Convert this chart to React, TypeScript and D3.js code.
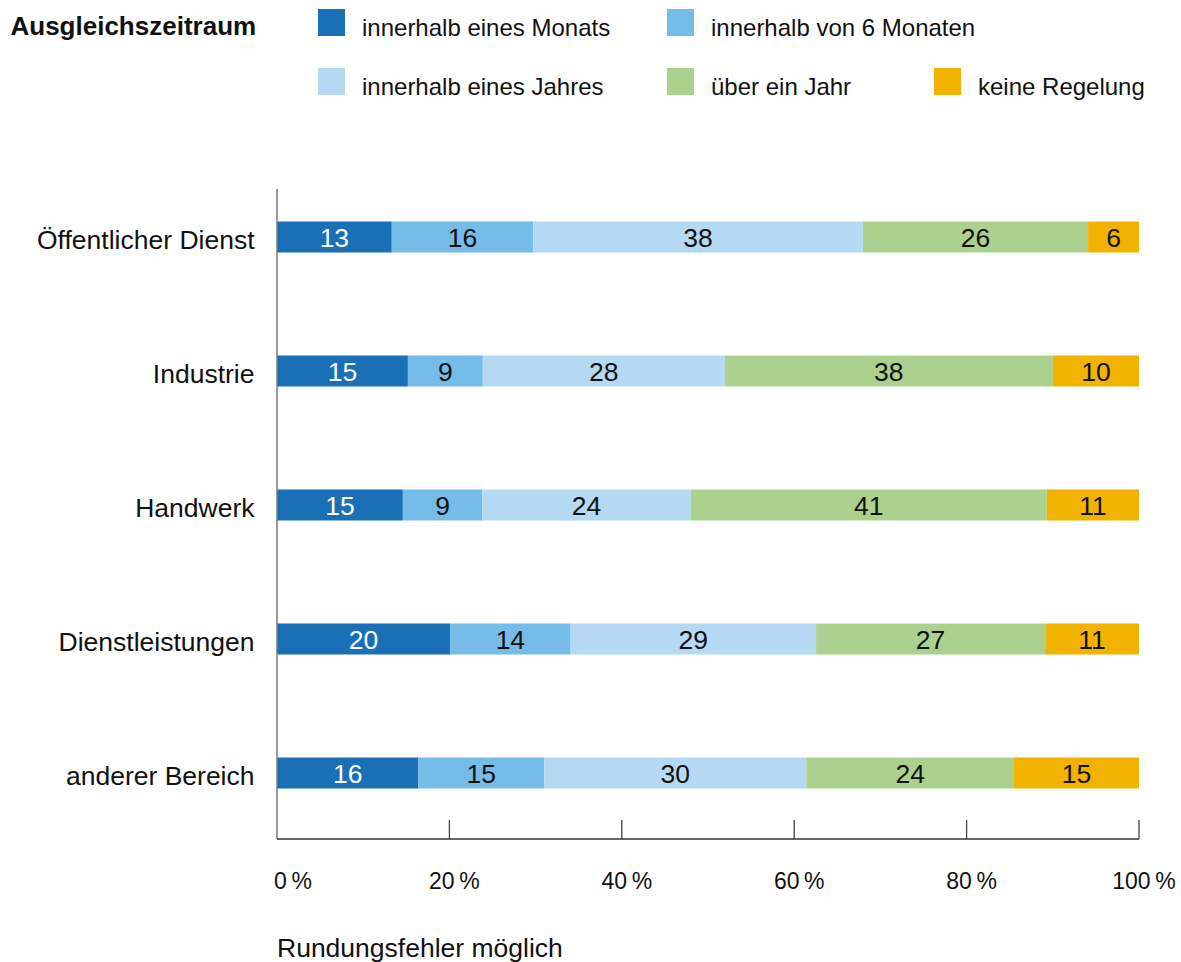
import React from "react";
import * as d3 from "d3";

// Ausgleichszeitraum nach Bereich (Anteile in %, gestapelt)
const categories = [
  "Öffentlicher Dienst",
  "Industrie",
  "Handwerk",
  "Dienstleistungen",
  "anderer Bereich",
];

const seriesNames = [
  "innerhalb eines Monats",
  "innerhalb von 6 Monaten",
  "innerhalb eines Jahres",
  "über ein Jahr",
  "keine Regelung",
];

const einMonat = [13.3, 15.2, 14.6, 20.1, 16.4];
const sechsMonate = [16.4, 8.7, 9.2, 14.0, 14.6];
const einJahr = [38.2, 28.1, 24.2, 28.5, 30.4];
const ueberJahr = [26.1, 38.1, 41.3, 26.6, 24.1];
const keineRegelung = [5.9, 10.0, 10.7, 10.9, 14.5];

const tickValues = [0, 0.2, 0.4, 0.6, 0.8, 1];

const colors = ["#1a6fb7", "#76bce8", "#b6d9f3", "#acd18f", "#f2b300"];

const W = 1181;
const H = 962;
const FONT = "'Liberation Sans', Arial, Helvetica, sans-serif";

export default function App() {
  const allSeries = [einMonat, sechsMonate, einJahr, ueberJahr, keineRegelung];

  const rows = categories.map((c, i) => {
    const row: any = { cat: c };
    seriesNames.forEach((s, j) => (row[s] = allSeries[j][i]));
    return row;
  });

  const stacked = d3
    .stack<any>()
    .keys(seriesNames)
    .offset(d3.stackOffsetExpand)(rows);

  const x = d3.scaleLinear().domain([0, 1]).range([277, 1139]);
  const y = d3.scaleBand().domain(categories).range([170, 840]);
  const barH = 31;
  const axisTop = 189;
  const axisBottom = 839;

  const fmt = (v: number) => `${Math.round(v * 100)}\u2009%`;

  // legend: two rows, three columns
  const legendCols = [318, 667, 934];
  const legendRows = [9, 68];
  const legendPos = (i: number) =>
    i < 2 ? [legendCols[i], legendRows[0]] : [legendCols[i - 2], legendRows[1]];

  return (
    <svg
      width={W}
      height={H}
      style={{ position: "absolute", left: 0, top: 0, background: "#fff" }}
      fontFamily={FONT}
    >
      <text x={10.5} y={34.5} fontSize={26} fontWeight="bold" fill="#111">
        Ausgleichszeitraum
      </text>

      {seriesNames.map((s, i) => {
        const [lx, ly] = legendPos(i);
        return (
          <g key={s}>
            <rect x={lx} y={ly} width={27} height={27} fill={colors[i]} />
            <text x={lx + 44} y={ly + 27} fontSize={24} fill="#111">
              {s}
            </text>
          </g>
        );
      })}

      {/* bars */}
      {stacked.map((layer, j) => (
        <g key={layer.key} fill={colors[j]}>
          {layer.map((d, i) => {
            const cy = (y(categories[i]) as number) + y.bandwidth() / 2;
            return (
              <rect
                key={i}
                x={x(d[0])}
                y={cy - barH / 2}
                width={x(d[1]) - x(d[0])}
                height={barH}
              />
            );
          })}
        </g>
      ))}

      {/* value labels */}
      {stacked.map((layer, j) =>
        layer.map((d, i) => {
          const cy = (y(categories[i]) as number) + y.bandwidth() / 2;
          return (
            <text
              key={`${j}-${i}`}
              x={(x(d[0]) + x(d[1])) / 2}
              y={cy + 9.7}
              textAnchor="middle"
              fontSize={26.5}
              fill={j === 0 ? "#fff" : "#111"}
            >
              {Math.round(allSeries[j][i])}
            </text>
          );
        })
      )}

      {/* category labels */}
      {categories.map((c) => (
        <text
          key={c}
          x={254.5}
          y={(y(c) as number) + y.bandwidth() / 2 + 11.5}
          textAnchor="end"
          fontSize={26.5}
          fill="#111"
        >
          {c}
        </text>
      ))}

      {/* axes */}
      <line
        x1={x(0)}
        x2={x(0)}
        y1={axisTop}
        y2={axisBottom}
        stroke="#7a7a7a"
        strokeWidth={1.5}
      />
      <line
        x1={x(0)}
        x2={x(1)}
        y1={axisBottom}
        y2={axisBottom}
        stroke="#333"
        strokeWidth={1.5}
      />
      {tickValues.slice(1).map((t) => (
        <line
          key={t}
          x1={x(t)}
          x2={x(t)}
          y1={axisBottom - 19}
          y2={axisBottom}
          stroke="#444"
          strokeWidth={1.3}
        />
      ))}
      {tickValues.map((t, i) => (
        <text
          key={t}
          x={i === 0 ? x(t) - 3 : x(t) + 5}
          y={889}
          textAnchor={i === 0 ? "start" : "middle"}
          fontSize={23}
          fill="#111"
        >
          {fmt(t)}
        </text>
      ))}

      <text x={277} y={957} fontSize={26.5} fill="#111">
        Rundungsfehler möglich
      </text>
    </svg>
  );
}
